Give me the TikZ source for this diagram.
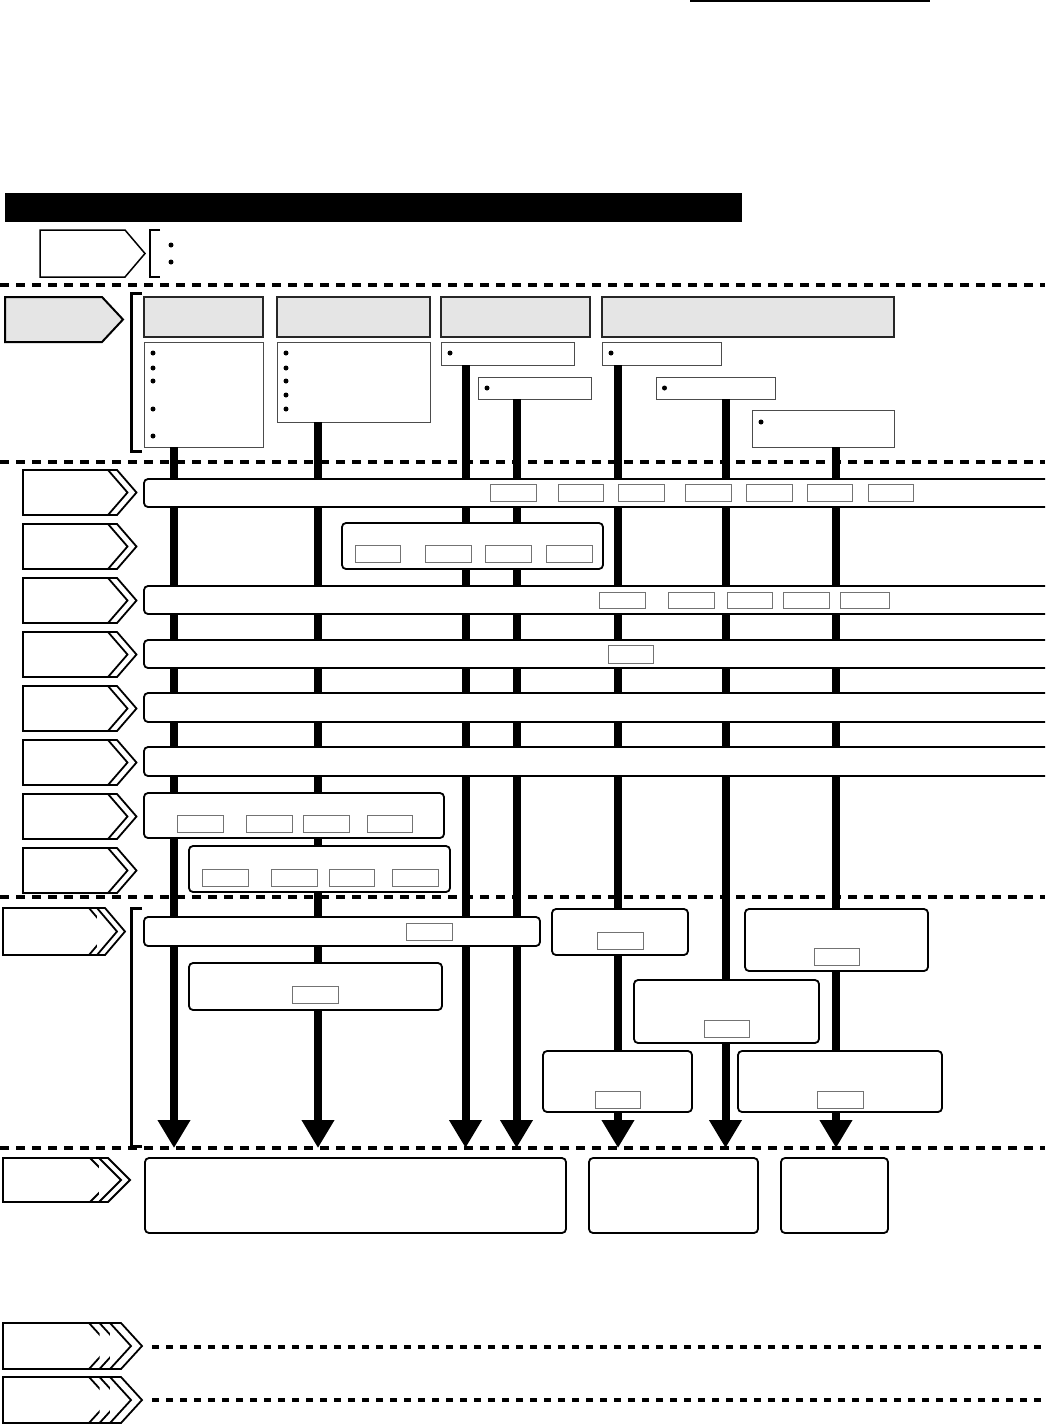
\documentclass[tikz,border=0pt]{standalone}
\usetikzlibrary{arrows.meta}
\tikzset{
 sep/.style={line width=3.5pt, dash pattern=on 9pt off 7pt},
 dotline/.style={line width=3.5pt, dash pattern=on 7pt off 7pt},
 flow/.style={line width=8pt, -{Triangle[width=31pt,length=28pt]}},
 hdr/.style={draw=black!85, line width=1.6pt, fill=black!10},
 lst/.style={draw=black!70, line width=1pt, fill=white},
 band/.style={draw=black, line width=1.8pt, rounded corners=4pt, fill=white},
 tag/.style={draw=black!55, line width=0.9pt, fill=white},
 chevsty/.style={draw=black, line width=1.8pt, fill=white, line join=miter},
 brk/.style={line width=3pt},
 bul/.style={fill=black},
}
\newcommand\mybox[6]{\node[#1, anchor=north west, inner sep=0pt, outer sep=0pt, minimum width={(#5)-(#3)}, minimum height={(#6)-(#4)}] (#2) at (#3,#4) {};}
\newcommand\mychev[6]{%
  \filldraw[chevsty] (#1,#2) -- (#4,#2) -- ({#4+#5},{(#2+#3)/2}) -- (#4,#3) -- (#1,#3) -- cycle;
  \foreach \c in {#6} {\draw[chevsty] (\c,#2) -- ({\c+#5},{(#2+#3)/2}) -- (\c,#3);}
}
\begin{document}
\begin{tikzpicture}[x=1pt,y=-1pt]
\clip (0,0) rectangle (1045,1425);
\fill[white] (0,0) rectangle (1045,1425);

% top rule and title bar
\draw[line width=1.5pt] (690,1) -- (930,1);
\mybox{fill=black}{title}{5}{193}{742}{222}

% legend
\filldraw[draw=black, fill=white, line width=1.5pt] (40,230) -- (125,230) -- (145,253.5) -- (125,277) -- (40,277) -- cycle;
\draw[line width=1.5pt] (160,230) -- (150,230) -- (150,277) -- (160,277);
\fill[bul] (171,245) circle (2.5pt);
\fill[bul] (171,262) circle (2.5pt);

% separators
\draw[sep] (0,285) -- (1045,285);
\draw[sep] (0,462) -- (1045,462);
\draw[sep] (0,897) -- (1045,897);
\draw[sep] (0,1148) -- (1045,1148);

% header section
\filldraw[draw=black, fill=black!10, line width=2pt, line join=miter] (5,297) -- (102,297) -- (123,319.5) -- (102,342) -- (5,342) -- cycle;
\draw[brk] (142,293) -- (131,293) -- (131,451) -- (142,451);

\mybox{hdr}{h1}{144}{297}{263}{337}
\mybox{hdr}{h2}{277}{297}{430}{337}
\mybox{hdr}{h3}{441}{297}{590}{337}
\mybox{hdr}{h4}{602}{297}{894}{337}

\mybox{lst}{l1}{144}{342}{263}{447}
\mybox{lst}{l2}{277}{342}{430}{422}
\mybox{lst}{l3a}{441}{342}{574}{365}
\mybox{lst}{l3b}{478}{377}{591}{399}
\mybox{lst}{l4a}{602}{342}{721}{365}
\mybox{lst}{l4b}{656}{377}{775}{399}
\mybox{lst}{l4c}{752}{410}{894}{447}

\foreach \y in {353,368,381,409,436} \fill[bul] (153,\y) circle (2.5pt);
\foreach \y in {353,368,381,395,409} \fill[bul] (286,\y) circle (2.5pt);
\fill[bul] (450,353) circle (2.5pt);
\fill[bul] (487,388) circle (2.5pt);
\fill[bul] (611,353) circle (2.5pt);
\fill[bul] (664.5,388) circle (2.5pt);
\fill[bul] (761,422) circle (2.5pt);

% flow arrows
\coordinate (t1) at (174,1148);
\coordinate (t2) at (318,1148);
\coordinate (t3) at (465.5,1148);
\coordinate (t4) at (516.5,1148);
\coordinate (t5) at (618,1148);
\coordinate (t6) at (725.5,1148);
\coordinate (t7) at (836,1148);
\draw[flow] (l1.south -| t1) -- (t1);
\draw[flow] (l2.south -| t2) -- (t2);
\draw[flow] (l3a.south -| t3) -- (t3);
\draw[flow] (l3b.south -| t4) -- (t4);
\draw[flow] (l4a.south -| t5) -- (t5);
\draw[flow] (l4b.south -| t6) -- (t6);
\draw[flow] (l4c.south -| t7) -- (t7);

% rows
\foreach \y in {470,524,578,632,686,740,794,848} {\mychev{23}{\y}{\y+45}{117}{19.5}{108}}

\mybox{band}{r1}{144}{479}{1060}{507}
\mybox{tag}{r1a}{490}{484}{536}{501}
\mybox{tag}{r1b}{558}{484}{603}{501}
\mybox{tag}{r1c}{618}{484}{664}{501}
\mybox{tag}{r1d}{685}{484}{731}{501}
\mybox{tag}{r1e}{746}{484}{792}{501}
\mybox{tag}{r1f}{807}{484}{852}{501}
\mybox{tag}{r1g}{868}{484}{913}{501}

\mybox{band}{r2}{342}{523}{603}{569}
\mybox{tag}{r2a}{355}{545}{400}{562}
\mybox{tag}{r2b}{425}{545}{471}{562}
\mybox{tag}{r2c}{485}{545}{531}{562}
\mybox{tag}{r2d}{546}{545}{592}{562}

\mybox{band}{r3}{144}{586}{1060}{614}
\mybox{tag}{r3a}{599}{592}{645}{608}
\mybox{tag}{r3b}{668}{592}{714}{608}
\mybox{tag}{r3c}{727}{592}{772}{608}
\mybox{tag}{r3d}{783}{592}{829}{608}
\mybox{tag}{r3e}{840}{592}{889}{608}

\mybox{band}{r4}{144}{640}{1060}{668}
\mybox{tag}{r4a}{608}{645}{653}{663}

\mybox{band}{r5}{144}{693}{1060}{722}
\mybox{band}{r6}{144}{747}{1060}{776}

\mybox{band}{r7}{144}{793}{444}{838}
\mybox{tag}{r7a}{177}{815}{223}{832}
\mybox{tag}{r7b}{246}{815}{292}{832}
\mybox{tag}{r7c}{303}{815}{349}{832}
\mybox{tag}{r7d}{367}{815}{412}{832}

\mybox{band}{r8}{189}{846}{450}{892}
\mybox{tag}{r8a}{202}{869}{248}{886}
\mybox{tag}{r8b}{271}{869}{317}{886}
\mybox{tag}{r8c}{329}{869}{374}{886}
\mybox{tag}{r8d}{392}{869}{438}{886}

% section 9
\mychev{3}{908}{955}{105}{20}{89,97}
\draw[brk] (142,908) -- (131,908) -- (131,1146) -- (142,1146);
\mybox{band}{sa}{144}{917}{540}{946}
\mybox{tag}{sat}{406}{923}{452}{940}
\mybox{band}{sb}{189}{963}{442}{1010}
\mybox{tag}{sbt}{292}{986}{338}{1003}
\mybox{band}{sc}{552}{909}{688}{955}
\mybox{tag}{sct}{597}{932}{643}{949}
\mybox{band}{sd}{745}{909}{928}{971}
\mybox{tag}{sdt}{814}{948}{859}{965}
\mybox{band}{se}{634}{980}{819}{1043}
\mybox{tag}{set}{704}{1020}{749}{1037}
\mybox{band}{sf}{543}{1051}{692}{1112}
\mybox{tag}{sft}{595}{1091}{640}{1108}
\mybox{band}{sg}{738}{1051}{942}{1112}
\mybox{tag}{sgt}{817}{1091}{863}{1108}

% section 10
\mychev{3}{1158}{1202}{108}{22}{90,99}
\mybox{band}{oa}{145}{1158}{566}{1233}
\mybox{band}{ob}{589}{1158}{758}{1233}
\mybox{band}{oc}{781}{1158}{888}{1233}

% bottom rows
\mychev{3}{1323}{1369}{121}{21}{89,99.5,110}
\mychev{3}{1377}{1423}{121}{21}{89,99.5,110}
\draw[dotline] (152,1347) -- (1045,1347);
\draw[dotline] (152,1400) -- (1045,1400);
\end{tikzpicture}
\end{document}
